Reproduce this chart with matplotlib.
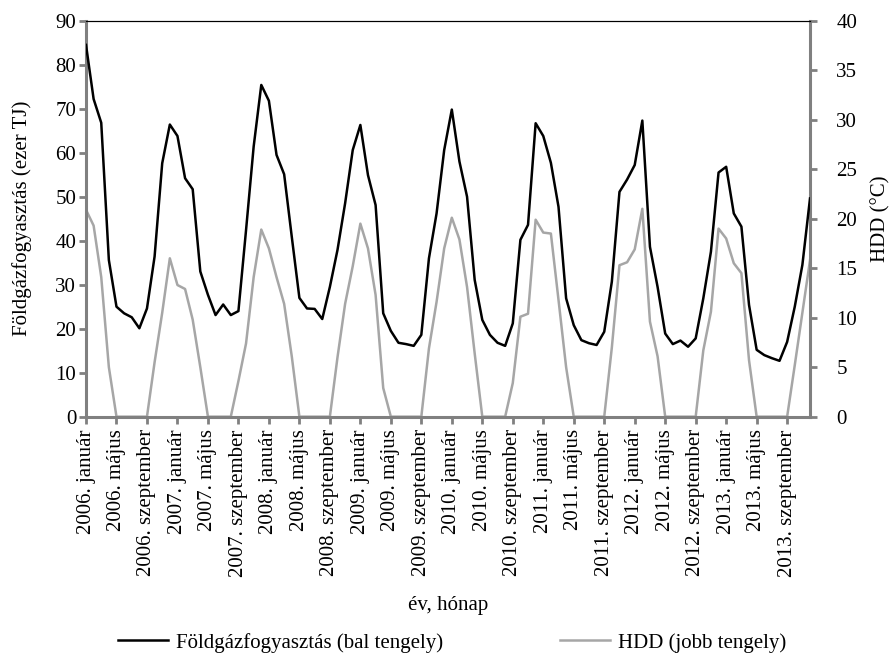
import matplotlib.pyplot as plt
from matplotlib.lines import Line2D

plt.rcParams['font.family'] = ['Liberation Serif', 'DejaVu Serif']
plt.rcParams['font.size'] = 15

# monthly data 2006 jan - 2013 dec
years = list(range(2006, 2014))
months = ['január', 'február', 'március', 'április', 'május', 'június',
          'július', 'augusztus', 'szeptember', 'október', 'november', 'december']

gas = [84.5, 72.2, 66.8, 35.6, 25.0, 23.5, 22.6, 20.1, 24.6, 36.4, 57.6, 66.4,
       63.8, 54.2, 51.7, 33.0, 27.7, 23.1, 25.5, 23.1, 24.0, 42.4, 61.4, 75.4,
       71.8, 59.5, 55.1, 40.9, 27.0, 24.6, 24.5, 22.2, 29.5, 37.9, 48.5, 60.6,
       66.3, 54.9, 48.1, 23.5, 19.5, 16.8, 16.5, 16.1, 18.6, 36.0, 46.2, 60.6,
       69.8, 58.0, 50.0, 31.1, 22.0, 18.6, 16.8, 16.1, 21.2, 40.2, 43.6, 66.7,
       63.8, 57.7, 47.7, 26.9, 20.8, 17.4, 16.7, 16.3, 19.3, 30.7, 51.1, 53.9,
       57.2, 67.3, 38.6, 29.5, 18.9, 16.5, 17.3, 15.9, 17.8, 26.9, 37.5, 55.5,
       56.8, 46.2, 43.2, 25.4, 15.2, 14.0, 13.3, 12.7, 17.0, 25.0, 34.5, 49.6]

hdd = [20.9, 19.3, 14.1, 5.0, 0, 0, 0, 0, 0, 5.5, 10.5, 16.0,
       13.3, 12.9, 9.8, 5.0, 0, 0, 0, 0, 3.6, 7.4, 14.1, 18.9,
       17.0, 14.1, 11.4, 6.1, 0, 0, 0, 0, 0, 6.0, 11.4, 15.2,
       19.5, 17.0, 12.3, 2.9, 0, 0, 0, 0, 0, 6.9, 11.6, 17.0,
       20.1, 17.9, 13.1, 6.4, 0, 0, 0, 0, 3.4, 10.1, 10.4, 19.9,
       18.6, 18.5, 11.8, 5.0, 0, 0, 0, 0, 0, 7.0, 15.3, 15.6,
       16.9, 21.0, 9.6, 6.1, 0, 0, 0, 0, 0, 6.7, 10.6, 19.0,
       18.0, 15.5, 14.5, 5.7, 0, 0, 0, 0, 0, 5.2, 10.5, 15.8]

labels = [f'{y}. {m}' for y in years for m in months]
x = list(range(len(labels)))

axis_gray = '#808080'
hdd_gray = '#a6a6a6'

fig = plt.figure(figsize=(8.93, 6.53), dpi=100)
ax = fig.add_axes([86/893, 1 - 416.7/653, 724/893, 396/653])
ax2 = ax.twinx()

ax.plot(x, gas, color='black', lw=1.8, zorder=3)
ax2.plot(x, hdd, color=hdd_gray, lw=1.8)
ax.set_zorder(ax2.get_zorder() + 1)
ax.patch.set_visible(False)

ax.set_xlim(0, len(x) - 1)
ax.set_ylim(0, 90)
ax2.set_ylim(0, 40)
ax.set_yticks(range(0, 91, 10))
ax2.set_yticks(range(0, 41, 5))
ax.set_xticks(x[::4])
ax.set_xticklabels(labels[::4], rotation=90)

for a in (ax, ax2):
    for s in ('left', 'right', 'bottom'):
        a.spines[s].set_color(axis_gray)
        a.spines[s].set_linewidth(2.2)
    a.spines['top'].set_color('black')
    a.spines['top'].set_linewidth(0.8)
    a.tick_params(axis='both', color=axis_gray, width=2, length=5, pad=4)
ax.spines['right'].set_visible(False)
ax2.spines['left'].set_visible(False)
ax2.spines['bottom'].set_visible(False)
ax.tick_params(axis='y', pad=2)
ax2.tick_params(axis='y', pad=14)

ax.set_ylabel('Földgázfogyasztás (ezer TJ)')
ax.yaxis.set_label_coords(-0.075, 0.5)
ax2.set_ylabel('HDD (°C)')
ax2.yaxis.set_label_coords(1.084, 0.5)
ax.set_xlabel('év, hónap')
ax.xaxis.set_label_coords(0.5, -0.452)

handles = [Line2D([], [], color='black', lw=1.8),
           Line2D([], [], color=hdd_gray, lw=1.8)]
fig.legend(handles, ['Földgázfogyasztás (bal tengely)', 'HDD (jobb tengely)'],
           loc='center', bbox_to_anchor=(0.506, 0.016), ncol=2, frameon=False,
           handlelength=2.4, handletextpad=0.4, columnspacing=5.6)

fig.savefig('out.png', dpi=100)
